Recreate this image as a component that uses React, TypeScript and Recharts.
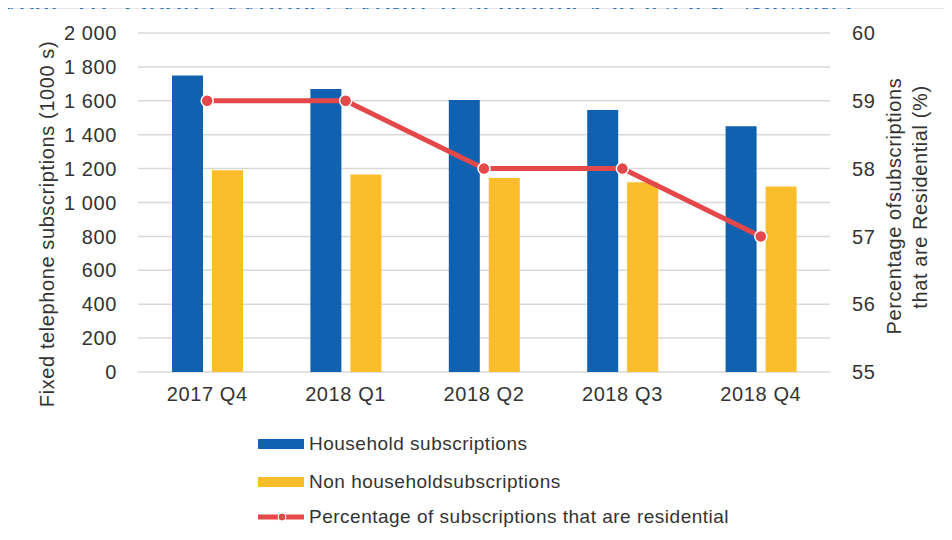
import {
  Bar,
  CartesianGrid,
  ComposedChart,
  Legend,
  Line,
  XAxis,
  YAxis,
} from "recharts";

const quarters = ["2017 Q4", "2018 Q1", "2018 Q2", "2018 Q3", "2018 Q4"];
const household = [1750, 1670, 1605, 1545, 1450];
const nonHousehold = [1190, 1165, 1145, 1120, 1095];
const residentialPct = [59, 59, 58, 58, 57];

const leftTicks = [0, 200, 400, 600, 800, 1000, 1200, 1400, 1600, 1800, 2000];
const rightTicks = [55, 56, 57, 58, 59, 60];

const title = "Зураг 16. Орон сууцны суурин телефоны хэрэглэгч, Малайз";

const data = quarters.map((q, i) => ({
  quarter: q,
  household: household[i],
  nonHousehold: nonHousehold[i],
  pct: residentialPct[i],
}));

const FONT = '"Liberation Sans", Arial, sans-serif';
const TEXT = "#333";
const BLUE = "#1161b1";
const YELLOW = "#fbbd2c";
const RED = "#e4484b";

const fmtThousands = (v: number) =>
  String(v).replace(/\B(?=(\d{3})+(?!\d))/g, " ");

const tickStyle = { fill: TEXT, fontSize: 20, fontFamily: FONT, letterSpacing: 0.6 };

function LegendBox(props: any) {
  const items = props.payload || [];
  const rowY = [24, 62, 97];
  return (
    <div style={{ position: "relative", height: 120, width: 520, fontFamily: FONT }}>
      {items.map((it: any, i: number) => (
        <div
          key={it.value}
          style={{
            position: "absolute",
            left: 0,
            top: rowY[i] - 12,
            height: 24,
            display: "flex",
            alignItems: "center",
          }}
        >
          <svg width={46} height={14} style={{ marginRight: 5 }}>
            {it.type === "line" ? (
              <g>
                <rect x={0} y={4.5} width={46} height={5} fill={it.color} />
                <circle cx={24} cy={7} r={4} fill={it.color} stroke="#fff" strokeWidth={1} />
              </g>
            ) : (
              <rect x={0} y={2} width={46} height={10} fill={it.color} />
            )}
          </svg>
          <span style={{ fontSize: 19, color: TEXT, letterSpacing: 0.5, whiteSpace: "nowrap" }}>
            {it.value}
          </span>
        </div>
      ))}
    </div>
  );
}

export default function App() {
  return (
    <div
      style={{
        position: "relative",
        width: 952,
        height: 540,
        margin: -8,
        background: "#e6e7ea",
        overflow: "hidden",
      }}
    >
      <div
        style={{
          position: "absolute",
          left: -16,
          top: -17,
          fontFamily: '"Liberation Serif", "DejaVu Serif", serif',
          fontSize: 34,
          color: "#1f6fc0",
          whiteSpace: "nowrap",
          lineHeight: "40px",
        }}
      >
        {title}
      </div>
      <div
        style={{
          position: "absolute",
          left: 8,
          top: 9,
          width: 944,
          height: 531,
          background: "#fff",
        }}
      >
        <ComposedChart
          width={944}
          height={531}
          data={data}
          margin={{ top: 24, right: 22, bottom: 0, left: 20 }}
          barGap={9}
        >
          <CartesianGrid
            yAxisId="left"
            vertical={false}
            stroke="#d9d9d9"
            strokeWidth={1.5}
          />
          <XAxis
            dataKey="quarter"
            axisLine={false}
            tickLine={false}
            tickSize={0}
            tickMargin={15}
            height={48}
            tick={tickStyle}
          />
          <YAxis
            yAxisId="left"
            orientation="left"
            width={110}
            domain={[0, 2000]}
            ticks={leftTicks}
            interval={0}
            axisLine={false}
            tickLine={false}
            tickSize={0}
            tickMargin={21}
            tickFormatter={fmtThousands}
            tick={tickStyle}
            label={{
              content: () => (
                <text
                  x={39}
                  y={215}
                  transform="rotate(-90 39 215)"
                  textAnchor="middle"
                  dominantBaseline="central"
                  fill={TEXT}
                  fontSize={20}
                  fontFamily={FONT}
                  letterSpacing={0.6}
                >
                  Fixed telephone subscriptions (1000 s)
                </text>
              ),
            }}
          />
          <YAxis
            yAxisId="right"
            orientation="right"
            width={100}
            domain={[55, 60]}
            ticks={rightTicks}
            interval={0}
            axisLine={false}
            tickLine={false}
            tickSize={0}
            tickMargin={22}
            tick={tickStyle}
            label={{
              content: () => (
                <g fill={TEXT} fontSize={20} fontFamily={FONT} letterSpacing={0.6}>
                  <text
                    x={886}
                    y={197}
                    transform="rotate(-90 886 197)"
                    textAnchor="middle"
                    dominantBaseline="central"
                  >
                    Percentage ofsubscriptions
                  </text>
                  <text
                    x={912}
                    y={188}
                    transform="rotate(-90 912 188)"
                    textAnchor="middle"
                    dominantBaseline="central"
                  >
                    that are Residential (%)
                  </text>
                </g>
              ),
            }}
          />
          <Legend
            verticalAlign="bottom"
            align="left"
            layout="horizontal"
            content={<LegendBox />}
            wrapperStyle={{ left: 250, bottom: 0, width: 520, height: 120 }}
          />
          <Bar
            yAxisId="left"
            dataKey="household"
            name="Household subscriptions"
            fill={BLUE}
            barSize={31}
            isAnimationActive={false}
          />
          <Bar
            yAxisId="left"
            dataKey="nonHousehold"
            name="Non householdsubscriptions"
            fill={YELLOW}
            barSize={31}
            isAnimationActive={false}
          />
          <Line
            yAxisId="right"
            dataKey="pct"
            name="Percentage of subscriptions that are residential"
            type="linear"
            stroke={RED}
            strokeWidth={5}
            dot={{ r: 6, fill: RED, stroke: "#fff", strokeWidth: 1.5 }}
            legendType="line"
            isAnimationActive={false}
          />
        </ComposedChart>
      </div>
    </div>
  );
}
